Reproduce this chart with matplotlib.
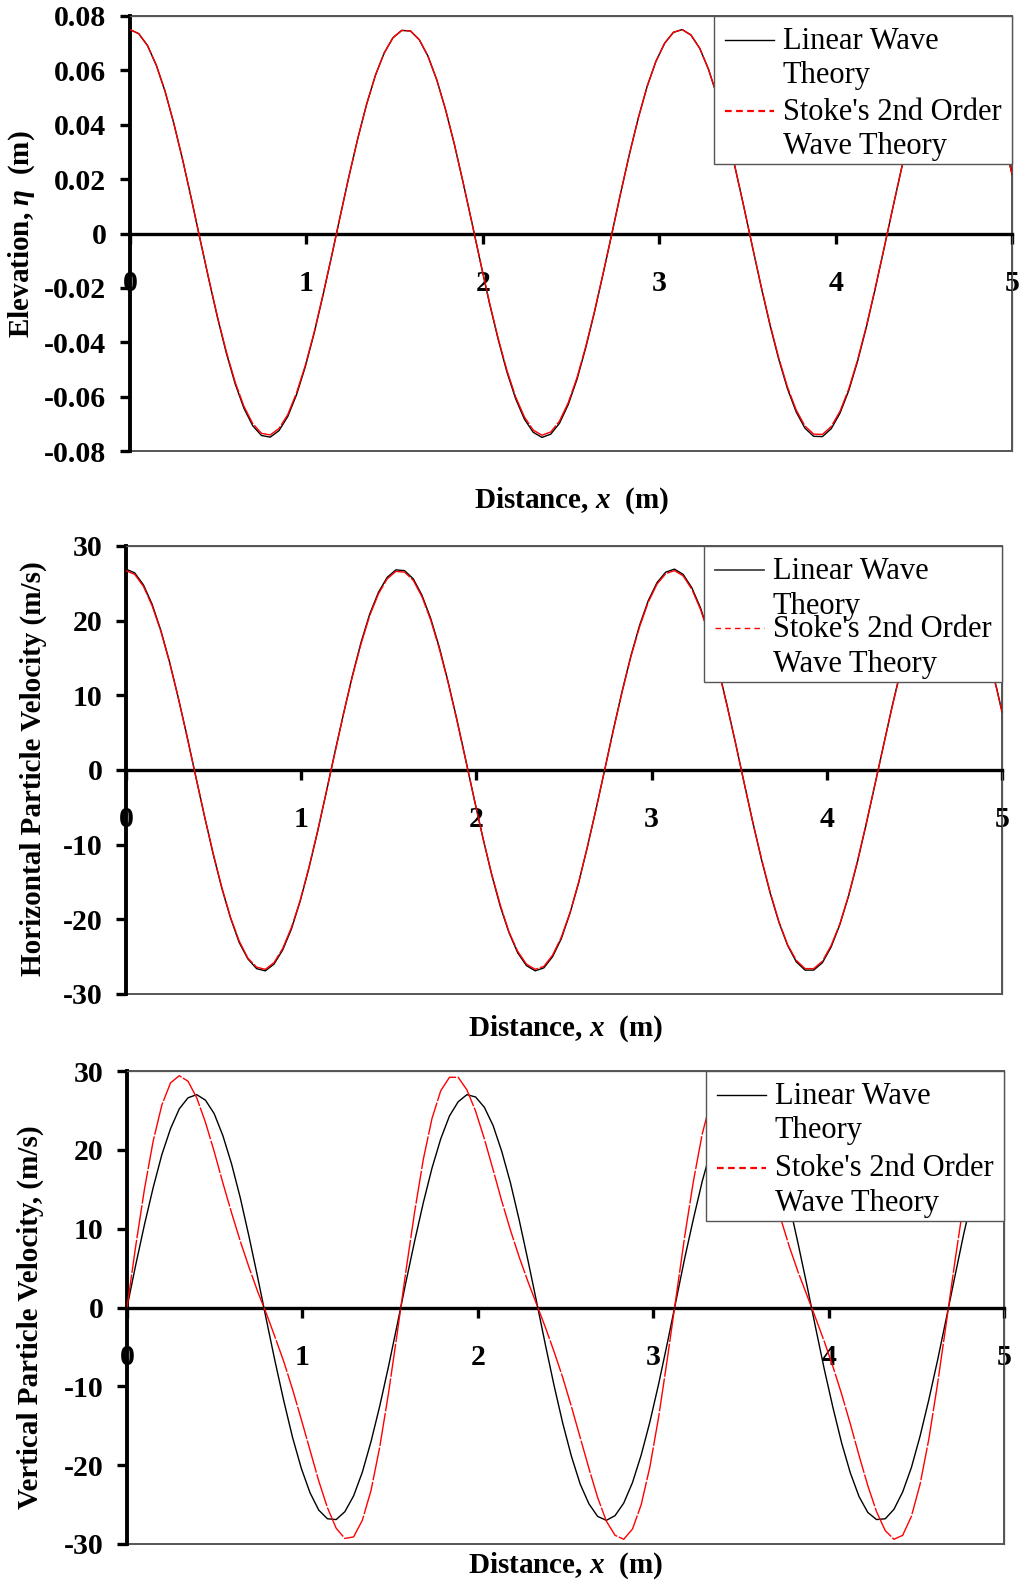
import matplotlib
matplotlib.use('Agg')
import matplotlib.pyplot as plt
from matplotlib.lines import Line2D
from matplotlib.patches import Rectangle
from matplotlib.transforms import IdentityTransform
from matplotlib.legend_handler import HandlerLine2D

plt.rcParams['font.family'] = ['Liberation Serif', 'DejaVu Serif']
plt.rcParams['mathtext.fontset'] = 'custom'
plt.rcParams['mathtext.rm'] = 'Liberation Serif:bold'
plt.rcParams['mathtext.it'] = 'Liberation Serif:italic:bold'
plt.rcParams['mathtext.bf'] = 'Liberation Serif:bold'

# ---------------- data ----------------
distance = [0.0, 0.0497, 0.0994, 0.1491, 0.1988, 0.2484, 0.2981, 0.3478, 0.3975, 0.4472,
            0.4969, 0.5466, 0.5963, 0.6460, 0.6956, 0.7453, 0.7950, 0.8447, 0.8944, 0.9441,
            0.9938, 1.0435, 1.0932, 1.1428, 1.1925, 1.2422, 1.2919, 1.3416, 1.3913, 1.4410,
            1.4907, 1.5404, 1.5900, 1.6397, 1.6894, 1.7391, 1.7888, 1.8385, 1.8882, 1.9379,
            1.9876, 2.0372, 2.0869, 2.1366, 2.1863, 2.2360, 2.2857, 2.3354, 2.3851, 2.4348,
            2.4845, 2.5341, 2.5838, 2.6335, 2.6832, 2.7329, 2.7826, 2.8323, 2.8820, 2.9317,
            2.9813, 3.0310, 3.0807, 3.1304, 3.1801, 3.2298, 3.2795, 3.3292, 3.3789, 3.4285,
            3.4782, 3.5279, 3.5776, 3.6273, 3.6770, 3.7267, 3.7764, 3.8261, 3.8757, 3.9254,
            3.9751, 4.0248, 4.0745, 4.1242, 4.1739, 4.2236, 4.2733, 4.3229, 4.3726, 4.4223,
            4.4720, 4.5217, 4.5714, 4.6211, 4.6708, 4.7205, 4.7701, 4.8198, 4.8695, 4.9192,
            4.9689, 5.0]

eta_linear = [0.0750, 0.0735, 0.0691, 0.0619, 0.0523, 0.0405, 0.0272, 0.0128, -0.0022, -0.0170,
              -0.0312, -0.0441, -0.0553, -0.0643, -0.0707, -0.0743, -0.0749, -0.0725, -0.0673, -0.0593,
              -0.0490, -0.0368, -0.0230, -0.0084, 0.0066, 0.0213, 0.0351, 0.0476, 0.0582, 0.0664,
              0.0720, 0.0747, 0.0745, 0.0713, 0.0652, 0.0565, 0.0456, 0.0329, 0.0188, 0.0041,
              -0.0109, -0.0255, -0.0389, -0.0509, -0.0608, -0.0683, -0.0731, -0.0750, -0.0738, -0.0698,
              -0.0629, -0.0536, -0.0420, -0.0288, -0.0145, 0.0003, 0.0152, 0.0295, 0.0426, 0.0541,
              0.0633, 0.0700, 0.0740, 0.0750, 0.0730, 0.0681, 0.0604, 0.0504, 0.0383, 0.0248,
              0.0103, -0.0047, -0.0195, -0.0335, -0.0461, -0.0570, -0.0656, -0.0716, -0.0746, -0.0747,
              -0.0718, -0.0661, -0.0578, -0.0471, -0.0346, -0.0206, -0.0059, 0.0090, 0.0236, 0.0373,
              0.0495, 0.0597, 0.0675, 0.0727, 0.0749, 0.0742, 0.0705, 0.0639, 0.0549, 0.0436,
              0.0306, 0.0218]

eta_stokes = [0.0750, 0.0735, 0.0691, 0.0619, 0.0523, 0.0405, 0.0272, 0.0128, -0.0022, -0.0168,
              -0.0309, -0.0436, -0.0547, -0.0636, -0.0699, -0.0735, -0.0741, -0.0717, -0.0666, -0.0586,
              -0.0485, -0.0364, -0.0227, -0.0083, 0.0066, 0.0213, 0.0351, 0.0476, 0.0582, 0.0664,
              0.0720, 0.0747, 0.0745, 0.0713, 0.0652, 0.0565, 0.0456, 0.0329, 0.0188, 0.0041,
              -0.0108, -0.0252, -0.0385, -0.0503, -0.0601, -0.0675, -0.0723, -0.0742, -0.0730, -0.0690,
              -0.0622, -0.0530, -0.0415, -0.0285, -0.0143, 0.0003, 0.0152, 0.0295, 0.0426, 0.0541,
              0.0633, 0.0700, 0.0740, 0.0750, 0.0730, 0.0681, 0.0604, 0.0504, 0.0383, 0.0248,
              0.0103, -0.0046, -0.0193, -0.0331, -0.0456, -0.0564, -0.0649, -0.0708, -0.0738, -0.0739,
              -0.0710, -0.0654, -0.0572, -0.0466, -0.0342, -0.0204, -0.0058, 0.0090, 0.0236, 0.0373,
              0.0495, 0.0597, 0.0675, 0.0727, 0.0749, 0.0742, 0.0705, 0.0639, 0.0549, 0.0436,
              0.0306, 0.0218]

u_linear = [26.9, 26.4, 24.8, 22.2, 18.7, 14.5, 9.7, 4.6, -0.8, -6.1,
            -11.2, -15.8, -19.8, -23.1, -25.3, -26.6, -26.9, -26.0, -24.1, -21.3,
            -17.6, -13.2, -8.3, -3.0, 2.4, 7.6, 12.6, 17.1, 20.9, 23.8,
            25.8, 26.8, 26.7, 25.6, 23.4, 20.3, 16.4, 11.8, 6.8, 1.5,
            -3.9, -9.1, -14.0, -18.3, -21.8, -24.5, -26.2, -26.9, -26.5, -25.0,
            -22.6, -19.2, -15.1, -10.3, -5.2, 0.1, 5.5, 10.6, 15.3, 19.4,
            22.7, 25.1, 26.5, 26.9, 26.2, 24.4, 21.7, 18.1, 13.8, 8.9,
            3.7, -1.7, -7.0, -12.0, -16.5, -20.4, -23.5, -25.7, -26.8, -26.8,
            -25.8, -23.7, -20.7, -16.9, -12.4, -7.4, -2.1, 3.2, 8.5, 13.4,
            17.8, 21.4, 24.2, 26.1, 26.9, 26.6, 25.3, 22.9, 19.7, 15.6,
            11.0, 7.8]

u_stokes = [26.7, 26.2, 24.6, 22.0, 18.6, 14.4, 9.7, 4.5, -0.8, -6.1,
            -11.1, -15.7, -19.7, -22.9, -25.2, -26.4, -26.7, -25.8, -23.9, -21.1,
            -17.5, -13.1, -8.2, -3.0, 2.3, 7.6, 12.5, 16.9, 20.7, 23.6,
            25.6, 26.6, 26.5, 25.4, 23.2, 20.1, 16.2, 11.7, 6.7, 1.4,
            -3.9, -9.1, -13.9, -18.1, -21.7, -24.3, -26.0, -26.7, -26.3, -24.8,
            -22.4, -19.1, -15.0, -10.3, -5.2, 0.1, 5.4, 10.5, 15.2, 19.2,
            22.5, 24.9, 26.3, 26.7, 26.0, 24.2, 21.5, 17.9, 13.7, 8.8,
            3.7, -1.7, -7.0, -11.9, -16.4, -20.3, -23.4, -25.5, -26.6, -26.6,
            -25.6, -23.5, -20.6, -16.8, -12.3, -7.3, -2.1, 3.2, 8.4, 13.3,
            17.6, 21.3, 24.0, 25.9, 26.7, 26.4, 25.1, 22.8, 19.5, 15.5,
            10.9, 7.8]

w_linear = [0.0, 5.4, 10.5, 15.2, 19.4, 22.7, 25.2, 26.6, 27.0, 26.3,
            24.6, 21.8, 18.2, 13.9, 9.0, 3.8, -1.6, -6.9, -11.9, -16.5,
            -20.4, -23.5, -25.7, -26.8, -26.9, -25.9, -23.9, -20.9, -17.0, -12.5,
            -7.5, -2.2, 3.2, 8.4, 13.3, 17.7, 21.4, 24.3, 26.1, 27.0,
            26.7, 25.4, 23.1, 19.8, 15.8, 11.1, 6.0, 0.7, -4.7, -9.9,
            -14.7, -18.9, -22.4, -24.9, -26.5, -27.0, -26.4, -24.8, -22.2, -18.7,
            -14.5, -9.7, -4.5, 0.9, 6.3, 11.3, 16.0, 20.0, 23.2, 25.5,
            26.7, 26.9, 26.1, 24.2, 21.3, 17.6, 13.1, 8.1, 2.9, -2.5,
            -7.8, -12.7, -17.2, -21.0, -24.0, -26.0, -26.9, -26.8, -25.6, -23.4,
            -20.3, -16.3, -11.7, -6.7, -1.4, 4.0, 9.3, 14.1, 18.4, 22.0,
            24.6, 25.8]

w_stokes = [0.0, 7.8, 15.0, 21.1, 25.7, 28.5, 29.4, 28.7, 26.6, 23.5,
            19.8, 15.8, 12.0, 8.4, 5.1, 2.0, -0.8, -3.8, -6.9, -10.4,
            -14.2, -18.1, -22.0, -25.4, -28.0, -29.3, -29.1, -27.0, -23.2, -17.7,
            -10.9, -3.3, 4.6, 12.1, 18.8, 24.0, 27.5, 29.2, 29.2, 27.6,
            24.9, 21.4, 17.5, 13.5, 9.8, 6.4, 3.3, 0.4, -2.5, -5.6,
            -8.9, -12.6, -16.5, -20.4, -24.1, -27.1, -28.9, -29.4, -28.1, -25.0,
            -20.2, -13.9, -6.5, 1.3, 9.1, 16.1, 22.0, 26.3, 28.7, 29.4,
            28.4, 26.1, 22.9, 19.1, 15.2, 11.3, 7.7, 4.5, 1.6, -1.3,
            -4.3, -7.5, -11.0, -14.8, -18.8, -22.6, -25.9, -28.3, -29.4, -28.9,
            -26.5, -22.4, -16.7, -9.7, -2.0, 5.9, 13.3, 19.7, 24.7, 27.9,
            29.3, 29.3]

x_ticks = [0, 1, 2, 3, 4, 5]
x_ticklabels = ['0', '1', '2', '3', '4', '5']
eta_ticks = [0.08, 0.06, 0.04, 0.02, 0, -0.02, -0.04, -0.06, -0.08]
eta_ticklabels = ['0.08', '0.06', '0.04', '0.02', '0', '-0.02', '-0.04', '-0.06', '-0.08']
vel_ticks = [30, 20, 10, 0, -10, -20, -30]
vel_ticklabels = ['30', '20', '10', '0', '-10', '-20', '-30']

legend_labels = ['Linear Wave\nTheory', "Stoke's 2nd Order\nWave Theory"]

# ---------------- figure ----------------
W, H = 1021, 1582
fig = plt.figure(figsize=(W / 100, H / 100), dpi=100)
TICK_FS = 21.5
LEG_FS = 22


class HandlerFirstLine(HandlerLine2D):
    """Place the legend line level with the first line of a two-line label."""

    def __init__(self, shift, **kw):
        super().__init__(**kw)
        self.shift = shift

    def create_artists(self, legend, orig_handle, xdescent, ydescent,
                       width, height, fontsize, trans):
        arts = super().create_artists(legend, orig_handle, xdescent, ydescent,
                                      width, height, fontsize, trans)
        for a in arts:
            if isinstance(a, Line2D):
                a.set_ydata([y + self.shift for y in a.get_ydata()])
        return arts


def axes_px(left, top, right, bottom):
    return fig.add_axes([left / W, 1 - bottom / H, (right - left) / W, (bottom - top) / H])


def style(ax, yticks, yticklabels, ylim):
    ax.set_xlim(0, 5)
    ax.set_ylim(*ylim)
    ax.spines['bottom'].set_position(('data', 0))
    ax.spines['bottom'].set_linewidth(2.4)
    ax.spines['bottom'].set_color('black')
    ax.spines['left'].set_linewidth(2.8)
    ax.spines['left'].set_color('black')
    for s in ('top', 'right'):
        ax.spines[s].set_linewidth(0.9)
        ax.spines[s].set_color('#555555')
    ax.patch.set_edgecolor('#555555')
    ax.patch.set_linewidth(1.4)
    ax.set_xticks(x_ticks)
    ax.set_xticklabels(x_ticklabels)
    ax.set_yticks(yticks)
    ax.set_yticklabels(yticklabels)
    ax.tick_params(axis='x', direction='out', length=7, width=2.4, pad=19, labelsize=TICK_FS)
    ax.tick_params(axis='y', direction='out', length=7, width=2.4, pad=10, labelsize=TICK_FS)
    for lbl in ax.get_xticklabels() + ax.get_yticklabels():
        lbl.set_fontweight('bold')


def add_legend(ax, lin_color='black', lin_lw=1.0, red_ls=(0, (3, 2)), red_lw=1.6,
               linespacing=1.25, labelspacing=0.24, borderpad=0.35):
    h_lin = Line2D([], [], color=lin_color, lw=lin_lw)
    h_st = Line2D([], [], color='red', lw=red_lw, ls=red_ls)
    pitch_pt = 0.851 * LEG_FS * linespacing
    shift = pitch_pt / 2.0 + 1.9
    leg = ax.legend([h_lin, h_st], legend_labels, loc='upper right', bbox_to_anchor=(1.0, 1.0),
                    borderaxespad=0, fancybox=False, framealpha=1,
                    fontsize=LEG_FS, handlelength=1.6, handletextpad=0.3, borderpad=borderpad,
                    labelspacing=labelspacing,
                    handler_map={Line2D: HandlerFirstLine(shift)})
    for t in leg.get_texts():
        t.set_linespacing(linespacing)
    leg.set_frame_on(False)
    leg.set_zorder(10)
    return leg


dash = (0, (24, 1.2))

# Panel 1: elevation
ax1 = axes_px(130, 16, 1012, 451)
ax1.plot(distance, eta_linear, color='black', lw=1.0, zorder=3)
ax1.plot(distance, eta_stokes, color='red', lw=1.0, ls=dash, zorder=4)
style(ax1, eta_ticks, eta_ticklabels, (-0.08, 0.08))
leg1 = add_legend(ax1, linespacing=1.25, labelspacing=0.24)

# Panel 2: horizontal velocity
ax2 = axes_px(126, 546, 1002, 994)
ax2.plot(distance, u_linear, color='black', lw=1.0, zorder=3)
ax2.plot(distance, u_stokes, color='red', lw=1.0, ls=dash, zorder=4)
style(ax2, vel_ticks, vel_ticklabels, (-30, 30))
leg2 = add_legend(ax2, lin_color='#444444', lin_lw=1.3, red_ls=(0, (4, 3)), red_lw=1.0,
                  linespacing=1.28, labelspacing=-0.2)

# Panel 3: vertical velocity
ax3 = axes_px(127, 1071, 1004, 1544)
ax3.plot(distance, w_linear, color='black', lw=1.0, zorder=3)
ax3.plot(distance, w_stokes, color='red', lw=1.0, ls=dash, zorder=4)
style(ax3, vel_ticks, vel_ticklabels, (-30, 30))
leg3 = add_legend(ax3, linespacing=1.25, labelspacing=0.3)


def ftext(x, y, s, **kw):
    fig.text(x / W, 1 - y / H, s, fontsize=21, fontweight='bold', ha='center', va='center', **kw)


ftext(571, 501, r'Distance, $x$  (m)')
ftext(565, 1029, r'Distance, $x$  (m)')
ftext(565, 1566, r'Distance, $x$  (m)')
ftext(22, 234, r'Elevation, $\eta$  (m)', rotation=90)
ftext(33, 769, 'Horizontal Particle Velocity (m/s)', rotation=90)
ftext(30, 1317, 'Vertical Particle Velocity, (m/s)', rotation=90)

# legend boxes: white background with a thin grey border, tight below the last line
fig.canvas.draw()
renderer = fig.canvas.get_renderer()
for ax, leg in ((ax1, leg1), (ax2, leg2), (ax3, leg3)):
    bb = leg.get_window_extent(renderer)
    tb = leg.get_texts()[-1].get_window_extent(renderer)
    bottom = tb.y0 - 3
    ax_bb = ax.get_window_extent(renderer)
    top = ax_bb.y1
    rect = Rectangle((bb.x0, bottom), ax_bb.x1 - bb.x0, top - bottom,
                     transform=IdentityTransform(), facecolor='white',
                     edgecolor='#555555', linewidth=1.0, zorder=9, clip_on=False)
    ax.add_patch(rect)

fig.savefig('out.png', dpi=100)
